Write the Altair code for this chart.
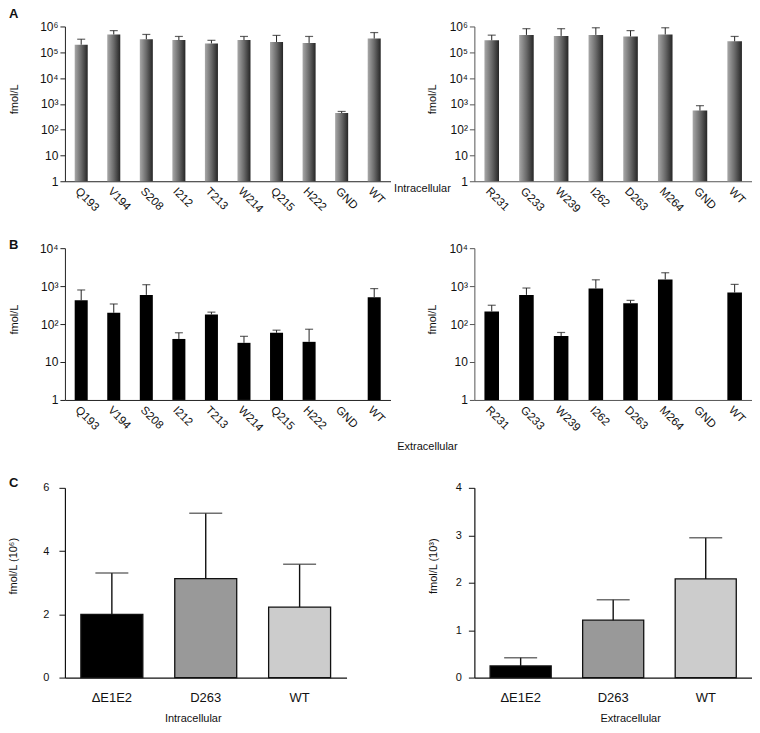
import math
import altair as alt
import pandas as pd

FONT = "Liberation Sans"

# ---------------- data ----------------
a_left_cats = ["Q193", "V194", "S208", "I212", "T213", "W214", "Q215", "H222", "GND", "WT"]
a_left_vals = [1.97e5, 4.9e5, 3.2e5, 2.96e5, 2.2e5, 2.96e5, 2.5e5, 2.3e5, 440, 3.4e5]
a_left_err = [3.2e5, 6.9e5, 4.9e5, 4.1e5, 2.9e5, 4.1e5, 4.5e5, 4.1e5, 508, 5.8e5]

a_right_cats = ["R231", "G233", "W239", "I262", "D263", "M264", "GND", "WT"]
a_right_vals = [2.9e5, 4.7e5, 4.3e5, 4.7e5, 4.1e5, 4.9e5, 550, 2.65e5]
a_right_err = [4.6e5, 8.2e5, 8.2e5, 8.9e5, 6.9e5, 8.9e5, 850, 4.1e5]

b_left_vals = [421, 198, 587, 40.5, 179, 32, 59, 34, None, 512]
b_left_err = [791, 338, 1090, 59, 206, 47.5, 69, 73, None, 860]

b_right_vals = [214, 587, 48.5, 860, 352, 1500, None, 677]
b_right_err = [313, 890, 60, 1466, 421, 2250, None, 1110]

c_cats = ["ΔE1E2", "D263", "WT"]
c_left_vals = [2.0, 3.13, 2.23]
c_left_err = [3.31, 5.2, 3.58]
c_right_vals = [0.245, 1.21, 2.08]
c_right_err = [0.42, 1.64, 2.95]
c_colors = ["#000000", "#999999", "#cccccc"]
c_left_ticks = [0, 2, 4, 6]
c_right_ticks = [0, 1, 2, 3, 4]

log_ticks = [1, 10, 100, 1000, 10000, 100000, 1000000]
log_tick_labels = ["1", "10", "10²", "10³", "10⁴", "10⁵", "10⁶"]

log_positions = [round(math.log10(v)) for v in log_ticks]
label_expr = " : ".join(
    f"datum.value == {p} ? '{l}'" for p, l in zip(log_positions, log_tick_labels)
) + " : ''"

gray_gradient = alt.LinearGradient(
    gradient="linear",
    stops=[
        alt.GradientStop(color="#a8a8a8", offset=0),
        alt.GradientStop(color="#6a6a6a", offset=0.5),
        alt.GradientStop(color="#252525", offset=1),
    ],
    x1=0, x2=1, y1=0, y2=0,
)


def text_layer(txt, x, y, size=11, bold=False, align="left"):
    return alt.Chart(pd.DataFrame({"t": [txt]})).mark_text(
        align=align, baseline="middle", font=FONT, fontSize=size,
        fontWeight="bold" if bold else "normal", color="#111",
    ).encode(x=alt.value(x), y=alt.value(y), text="t:N")


def log_panel(cats, vals, errs, width, height, top_exp, fill, title_x,
              axis_color, pi, letter=None, letter_y=None, note=None, note_xy=None):
    df = pd.DataFrame({"cat": cats, "val": vals, "err": errs})
    base = alt.Chart(df).transform_filter("datum.val > 0").transform_calculate(
        lv="log(datum.val) / LN10", le="log(datum.err) / LN10")
    xscale = alt.Scale(domain=cats, paddingInner=pi, paddingOuter=pi / 2)
    xaxis = alt.Axis(
        title=None, labelAngle=45, labelAlign="left", labelBaseline="top",
        ticks=False, tickSize=0, labelPadding=4, labelFontSize=11.5,
        domainColor=axis_color, labelColor="#111", labelFont=FONT)
    tick_vals = log_positions[: top_exp + 1]
    yscale = alt.Scale(domain=[0, top_exp], nice=False, zero=True)
    yaxis = alt.Axis(
        values=tick_vals, tickCount=len(tick_vals), labelExpr=label_expr,
        title="fmol/L", titleX=title_x, titleY=height / 2 - 5,
        titleBaseline="middle", titleFontSize=11, titleFontWeight="normal",
        titleFont=FONT, titleColor="#111",
        labelFont=FONT, labelFontSize=12, labelColor="#111", labelPadding=2,
        tickSize=5, tickColor=axis_color, domainColor=axis_color,
        grid=False, labelOverlap=False)
    x = alt.X("cat:N", sort=cats, scale=xscale, axis=xaxis)
    bars = base.mark_bar(color=fill).encode(
        x=x, y=alt.Y("lv:Q", scale=yscale, axis=yaxis))
    rules = base.mark_rule(color="#222", strokeWidth=1).encode(
        x=x, y=alt.Y("lv:Q", scale=yscale, axis=yaxis), y2="le:Q")
    caps = base.mark_tick(orient="horizontal", size=8, thickness=1.2, color="#222").encode(
        x=x, y=alt.Y("le:Q", scale=yscale, axis=yaxis))
    layers = [bars, rules, caps]
    if letter:
        layers.append(text_layer(letter, -56, letter_y, size=13, bold=True))
    if note:
        layers.append(text_layer(note, note_xy[0], note_xy[1], size=11, align="center"))
    return alt.layer(*layers).properties(width=width, height=height)


def lin_panel(vals, errs, width, height, top_gap, top, ticks, ytitle, title_x, xtitle, xtitle_x,
              label_pad, letter=None, letter_y=None):
    df = pd.DataFrame({"cat": c_cats, "val": vals, "err": errs, "col": c_colors})
    total_h = height + top_gap
    x = alt.X("cat:N", sort=c_cats, scale=alt.Scale(domain=c_cats, paddingInner=0.34, paddingOuter=0.17),
              axis=alt.Axis(title=xtitle, titleX=xtitle_x, titleY=41, titleAlign="center",
                            titleBaseline="middle", titleFontSize=11, titleFontWeight="normal",
                            titleFont=FONT, titleColor="#111",
                            labelAngle=0, ticks=False, tickSize=0, labelPadding=14,
                            labelFontSize=13, labelFont=FONT, labelColor="#111",
                            domainColor="#111", domainWidth=1.2))
    yscale = alt.Scale(domain=[0, top], nice=False, range=[total_h, top_gap])
    yaxis = alt.Axis(values=ticks, format="d", title=ytitle, titleX=title_x,
                     titleY=top_gap + height / 2 - 17,
                     titleBaseline="middle", titleFontSize=11, titleFontWeight="normal",
                     titleFont=FONT, titleColor="#111",
                     labelFont=FONT, labelFontSize=11, labelColor="#111",
                     labelPadding=label_pad, tickSize=6, tickColor="#111",
                     domainColor="#111", domainWidth=1.2, grid=False)
    bars = alt.Chart(df).mark_bar(stroke="#111", strokeWidth=1.3).encode(
        x=x, y=alt.Y("val:Q", scale=yscale, axis=yaxis), color=alt.Color("col:N", scale=None))
    rules = alt.Chart(df).mark_rule(color="#111", strokeWidth=1.4).encode(
        x=x, y=alt.Y("val:Q", scale=yscale, axis=yaxis), y2="err:Q")
    caps = alt.Chart(df).mark_tick(orient="horizontal", size=33, thickness=1.5, color="#333").encode(
        x=x, y=alt.Y("err:Q", scale=yscale, axis=yaxis))
    layers = [bars, rules, caps]
    if letter:
        layers.append(text_layer(letter, -56, top_gap + letter_y, size=13, bold=True))
    return alt.layer(*layers).properties(width=width, height=total_h)


LW, RW = 326, 278
HA, HB, HC = 155, 152, 190
ROW_GAP = 67
C_EXTRA = 88 - ROW_GAP

a_left = log_panel(a_left_cats, a_left_vals, a_left_err, LW, HA, 6, gray_gradient, -50,
                   "#222", 0.6, letter="A", letter_y=-12,
                   note="Intracellular", note_xy=(358, HA + 8))
a_right = log_panel(a_right_cats, a_right_vals, a_right_err, RW, HA, 6, gray_gradient, -42,
                    "#555", 0.58)
b_left = log_panel(a_left_cats, b_left_vals, b_left_err, LW, HB, 4, "#000000", -50,
                   "#222", 0.6, letter="B", letter_y=-3,
                   note="Extracellular", note_xy=(363, HB + 47))
b_right = log_panel(a_right_cats, b_right_vals, b_right_err, RW, HB, 4, "#000000", -42,
                    "#555", 0.58)

c_left = lin_panel(c_left_vals, c_left_err, 282, HC, C_EXTRA, 6, c_left_ticks, "fmol/L (10⁶)", -51,
                   "Intracellular", 128, 10, letter="C", letter_y=-5)
c_right = lin_panel(c_right_vals, c_right_err, RW, HC, C_EXTRA, 4, c_right_ticks, "fmol/L (10³)", -41,
                    "Extracellular", 156, 7)

chart = alt.concat(
    a_left, a_right, b_left, b_right, c_left, c_right,
    columns=2, spacing={"row": ROW_GAP, "column": 84}, bounds="flush",
).properties(
    padding=0, background="white"
).configure_view(stroke=None)

chart.save("out.html", embed_options={"renderer": "svg", "actions": False})
